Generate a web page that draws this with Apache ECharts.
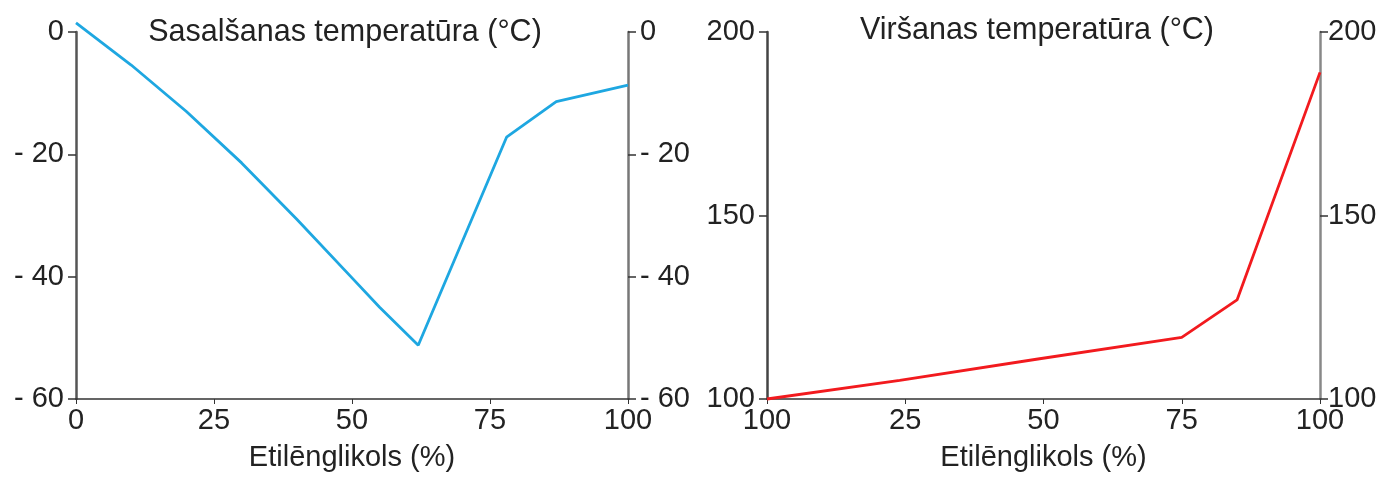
<!DOCTYPE html>
<html>
<head>
<meta charset="utf-8">
<script src="https://cdn.jsdelivr.net/npm/echarts@6/dist/echarts.min.js"></script>
<style>
  html, body { margin: 0; padding: 0; background: #fff; }
  #chart { width: 1382px; height: 484px; }
</style>
</head>
<body>
<div id="chart"></div>
<script>
// Sasalšanas (freezing) curve
const freezeX = [0, 10, 20, 30, 40, 50, 55, 62, 78, 87, 100]
const freezeY = [1.5, -5.4, -13, -21.4, -30.6, -40.2, -45, -51.2, -17.2, -11.4, -8.7]
const freezeTicks = [0, -20, -40, -60]
const freezeTickLabels = ['0', '- 20', '- 40', '- 60']

// Viršanas (boiling) curve
const boilX = [0, 24, 49, 75, 85, 100]
const boilY = [100, 105.1, 110.9, 116.8, 127, 189]
const boilTicks = [100, 150, 200]
const boilTickLabels = ['100', '150', '200']

// x axis
const xTicks = [0, 25, 50, 75, 100]
const freezeXLabels = ['0', '25', '50', '75', '100']
const boilXLabels = ['100', '25', '50', '75', '100']

const titles = ['Sasalšanas temperatūra (°C)', 'Viršanas temperatūra (°C)']
const xName = 'Etilēnglikols (%)'

const font = "'Liberation Sans', Arial, sans-serif"
const textColor = '#222'

const chart = echarts.init(document.getElementById('chart'))

function pick(ticks, labels) {
  return function (v) {
    const i = ticks.indexOf(v)
    return i >= 0 ? labels[i] : ''
  }
}

function xAxis(grid, labels) {
  return {
    type: 'value',
    gridIndex: grid,
    min: 0,
    max: 100,
    interval: 25,
    name: xName,
    nameLocation: 'middle',
    nameGap: 44,
    nameTextStyle: { color: textColor, fontSize: 29, fontFamily: font },
    axisLine: { onZero: false, lineStyle: { color: '#333', width: 1.5 } },
    axisTick: { show: true, length: 5, lineStyle: { color: '#333' } },
    axisLabel: {
      color: textColor,
      fontSize: 29,
      fontFamily: font,
      margin: 7,
      formatter: pick(xTicks, labels)
    },
    splitLine: { show: false }
  }
}

function yAxis(grid, position, min, max, interval, ticks, labels, color, margin) {
  return {
    type: 'value',
    gridIndex: grid,
    position: position,
    min: min,
    max: max,
    interval: interval,
    axisLine: { show: true, onZero: false, lineStyle: { color: color, width: 2.5 } },
    axisTick: { show: true, length: 8, lineStyle: { color: '#333', width: 1.5 } },
    axisLabel: {
      color: textColor,
      fontSize: 29,
      fontFamily: font,
      margin: margin,
      formatter: pick(ticks, labels)
    },
    splitLine: { show: false }
  }
}

const option = {
  backgroundColor: '#fff',
  animation: false,
  title: [
    {
      text: titles[0],
      left: 345,
      top: 17,
      textAlign: 'center',
      padding: 0,
      textStyle: { color: textColor, fontSize: 30.5, fontWeight: 'normal', fontFamily: font }
    },
    {
      text: titles[1],
      left: 1037,
      top: 15,
      textAlign: 'center',
      padding: 0,
      textStyle: { color: textColor, fontSize: 30.5, fontWeight: 'normal', fontFamily: font }
    }
  ],
  grid: [
    { left: 76, top: 32, width: 552, height: 367 },
    { left: 767, top: 32, width: 553, height: 367 }
  ],
  xAxis: [xAxis(0, freezeXLabels), xAxis(1, boilXLabels)],
  yAxis: [
    yAxis(0, 'left', -60, 0, 20, freezeTicks, freezeTickLabels, '#555', 12),
    yAxis(0, 'right', -60, 0, 20, freezeTicks, freezeTickLabels, '#777', 12),
    yAxis(1, 'left', 100, 200, 50, boilTicks, boilTickLabels, '#444', 12),
    yAxis(1, 'right', 100, 200, 50, boilTicks, boilTickLabels, '#888', 8)
  ],
  series: [
    {
      type: 'line',
      xAxisIndex: 0,
      yAxisIndex: 0,
      data: freezeX.map((x, i) => [x, freezeY[i]]),
      showSymbol: false,
      clip: false,
      lineStyle: { color: '#1ea7e1', width: 2.8 }
    },
    {
      type: 'line',
      xAxisIndex: 1,
      yAxisIndex: 2,
      data: boilX.map((x, i) => [x, boilY[i]]),
      showSymbol: false,
      clip: false,
      lineStyle: { color: '#f21a1e', width: 2.8 }
    }
  ]
}

chart.setOption(option)
</script>
</body>
</html>
